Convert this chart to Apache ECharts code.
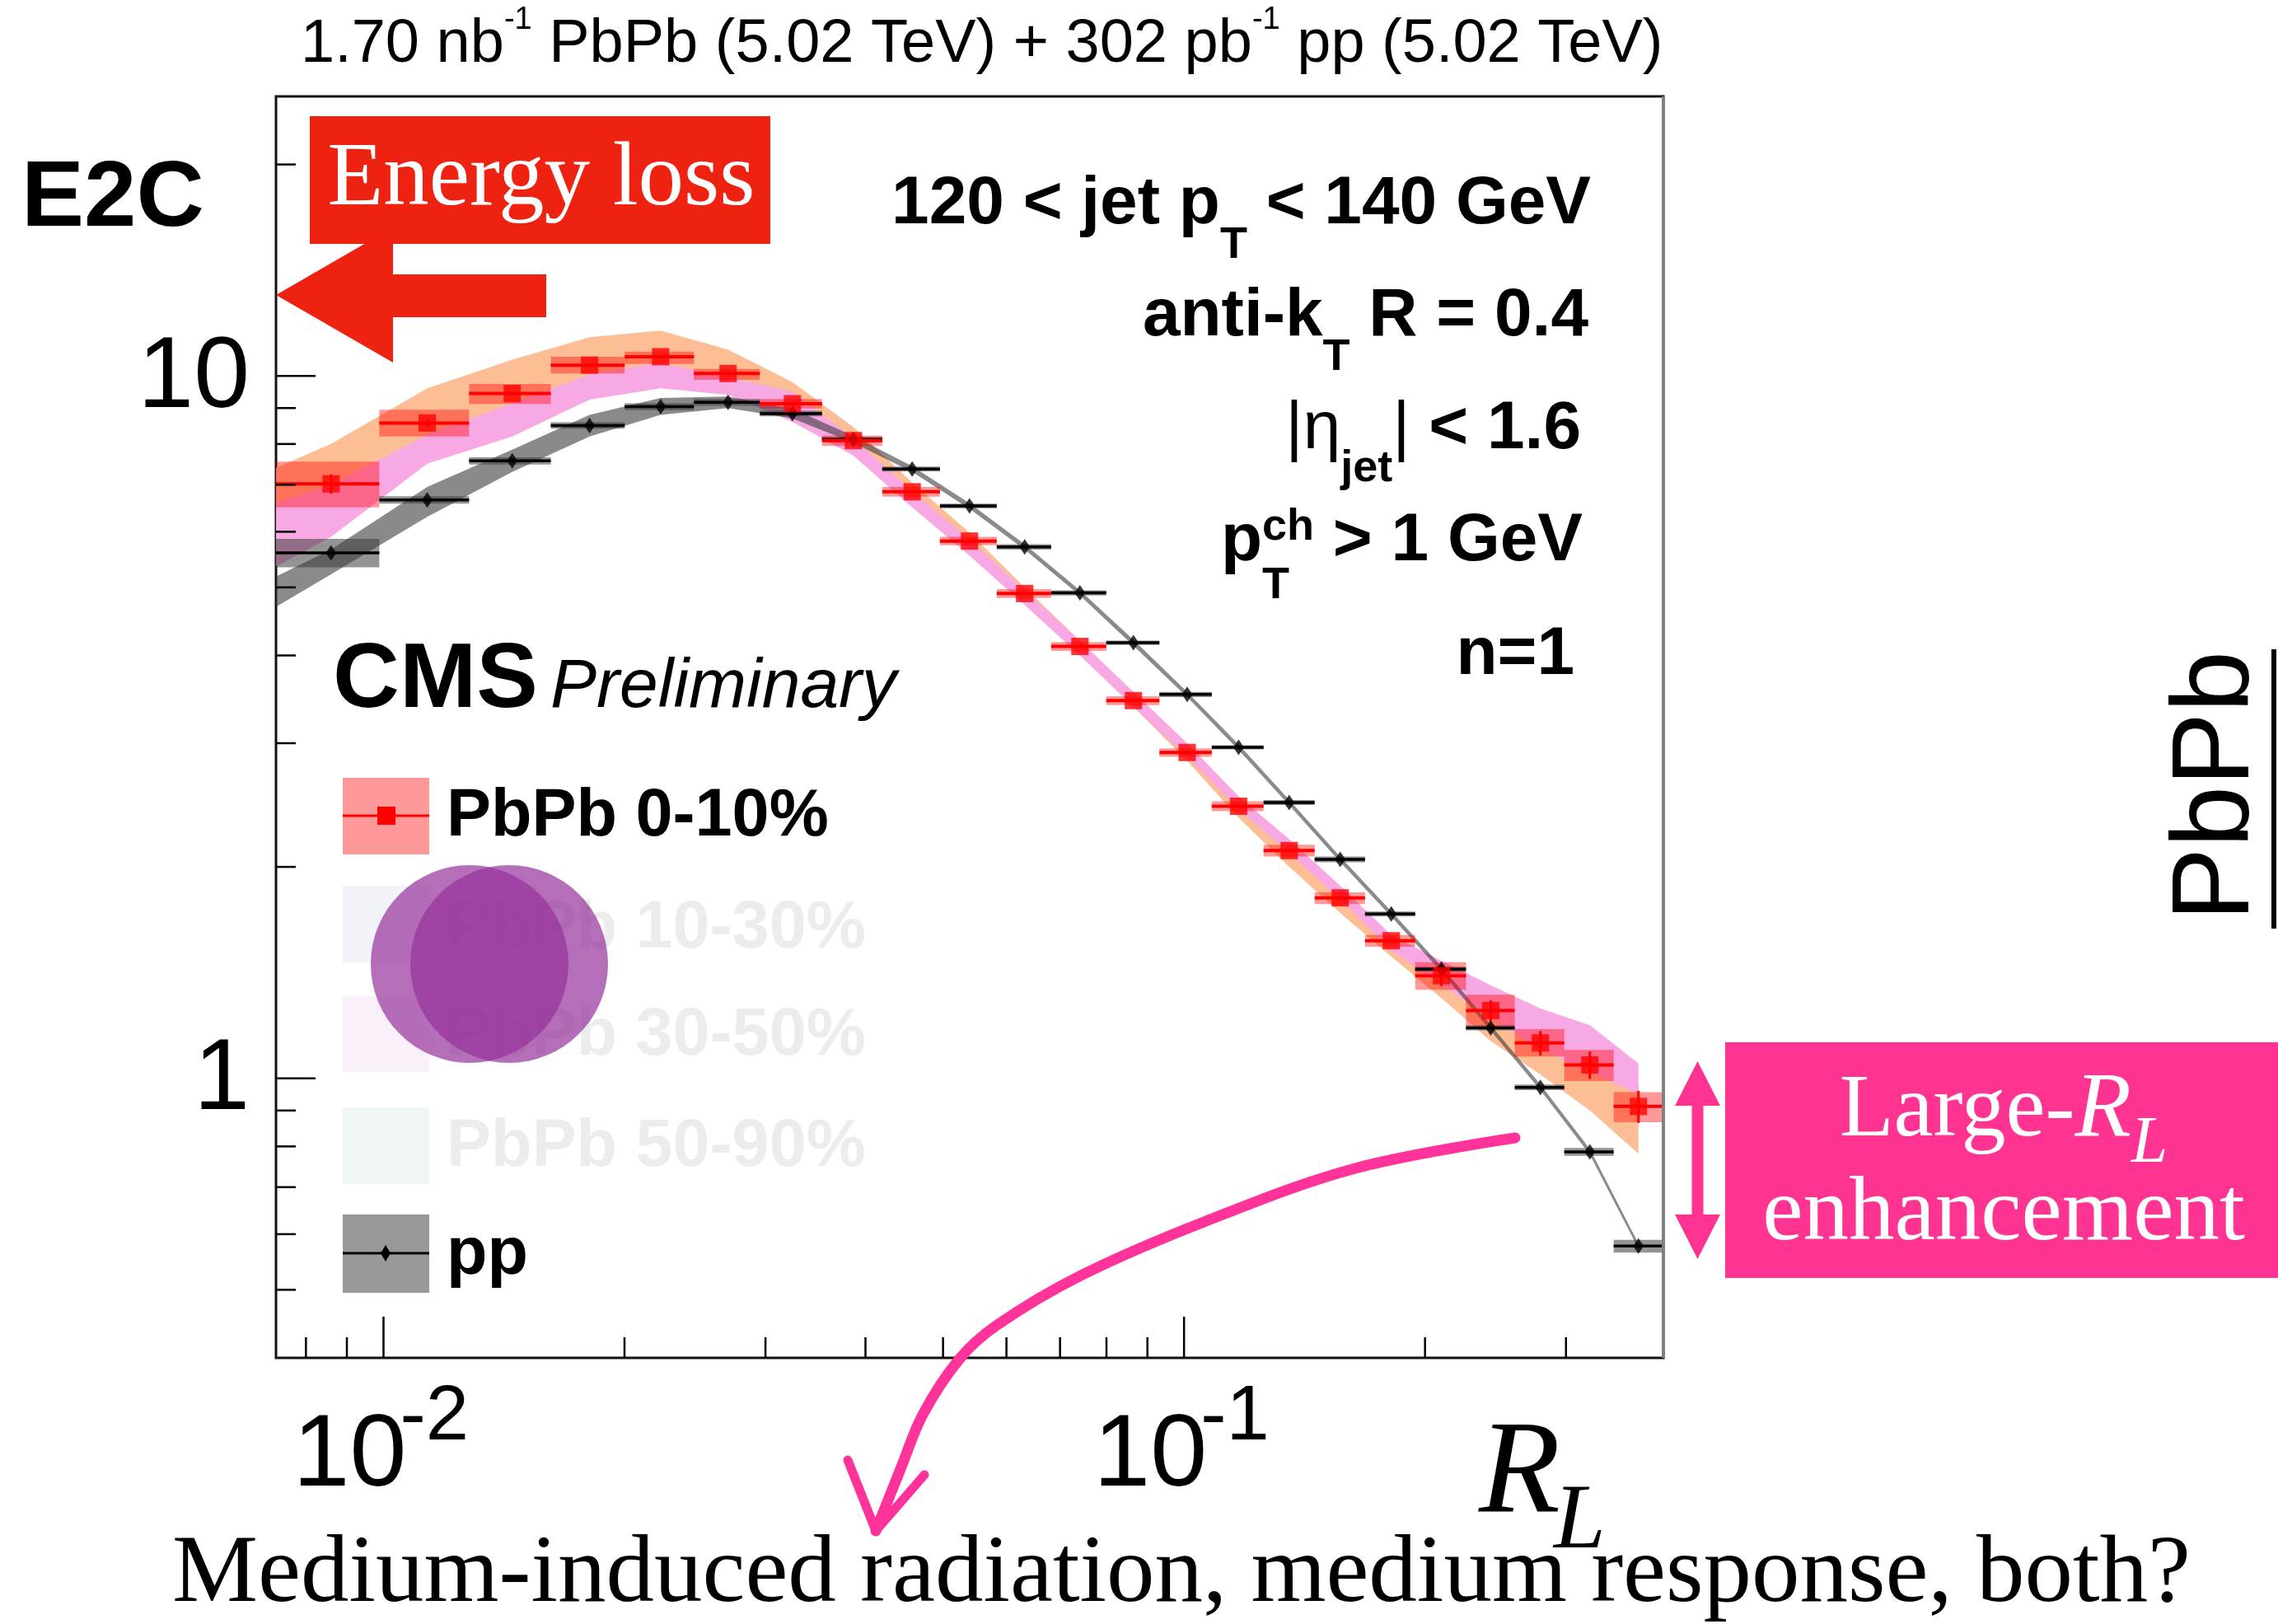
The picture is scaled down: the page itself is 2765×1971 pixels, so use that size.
<!DOCTYPE html>
<html><head><meta charset="utf-8">
<script src="https://cdn.jsdelivr.net/npm/echarts@6/dist/echarts.min.js"></script>
<style>html,body{margin:0;padding:0;background:#fff}#c{width:2765px;height:1971px}</style>
</head><body><div id="c"></div>
<script>
// ---------------- data ----------------
const binEdges = [0.00734, 0.00988, 0.01279, 0.01618, 0.02001, 0.02442, 0.02952, 0.0353, 0.04198, 0.04955, 0.05835, 0.06823, 0.07995, 0.09316, 0.1083, 0.1257, 0.1456, 0.1683, 0.1944, 0.2250, 0.2589, 0.2985, 0.3441, 0.397];
const rlCenters = [0.00860, 0.01134, 0.01448, 0.01809, 0.02219, 0.02694, 0.03242, 0.03864, 0.04575, 0.05395, 0.06323, 0.07412, 0.08645, 0.1009, 0.1170, 0.1353, 0.1567, 0.1815, 0.2097, 0.2416, 0.2787, 0.3213, 0.3695];
const pbpb = [7.02, 8.57, 9.44, 10.36, 10.65, 10.08, 9.13, 8.09, 6.84, 5.82, 4.90, 4.12, 3.45, 2.91, 2.44, 2.11, 1.807, 1.57, 1.40, 1.249, 1.123, 1.045, 0.912];
const pbpbStat = [0.22, 0.10, 0.05, 0.04, 0.03, 0.03, 0.02, 0.02, 0.02, 0.015, 0.015, 0.012, 0.01, 0.01, 0.01, 0.01, 0.01, 0.012, 0.047, 0.042, 0.045, 0.047, 0.048];
const pbpbSysLo = [6.50, 8.20, 9.12, 10.08, 10.40, 9.87, 8.99, 7.95, 6.73, 5.74, 4.83, 4.06, 3.40, 2.87, 2.40, 2.07, 1.77, 1.54, 1.337, 1.186, 1.074, 0.991, 0.866];
const pbpbSysHi = [7.55, 8.95, 9.74, 10.65, 10.83, 10.23, 9.27, 8.22, 6.95, 5.90, 4.97, 4.18, 3.50, 2.95, 2.48, 2.15, 1.84, 1.60, 1.464, 1.315, 1.175, 1.098, 0.956];
const pp = [5.60, 6.66, 7.57, 8.50, 9.04, 9.17, 8.84, 8.12, 7.37, 6.53, 5.71, 4.91, 4.17, 3.52, 2.96, 2.47, 2.05, 1.714, 1.43, 1.18, 0.971, 0.786, 0.577];
const ppSysLo = [5.34, 6.58, 7.48, 8.41, 8.94, 9.07, 8.76, 8.05, 7.31, 6.48, 5.66, 4.87, 4.14, 3.49, 2.94, 2.45, 2.03, 1.70, 1.418, 1.17, 0.962, 0.776, 0.565];
const ppSysHi = [5.86, 6.74, 7.66, 8.59, 9.14, 9.27, 8.92, 8.19, 7.43, 6.58, 5.76, 4.95, 4.20, 3.55, 2.98, 2.49, 2.07, 1.728, 1.442, 1.19, 0.980, 0.796, 0.589];
// model bands: first point is the left axis edge, then one per bin
const bandR = [0.00734, 0.00860, 0.01134, 0.01448, 0.01809, 0.02219, 0.02694, 0.03242, 0.03864, 0.04575, 0.05395, 0.06323, 0.07412, 0.08645, 0.1009, 0.1170, 0.1353, 0.1567, 0.1815, 0.2097, 0.2416, 0.2787, 0.3213, 0.3695];
const orangeLo = [6.3, 6.7, 8.0, 8.9, 9.8, 10.2, 9.7, 8.9, 7.95, 6.7, 5.7, 4.8, 4.05, 3.38, 2.83, 2.35, 2.0, 1.72, 1.49, 1.30, 1.13, 1.013, 0.90, 0.781];
const orangeHi = [7.4, 8.0, 9.6, 10.55, 11.35, 11.6, 10.9, 9.8, 8.45, 7.05, 5.98, 5.0, 4.2, 3.5, 2.94, 2.45, 2.1, 1.8, 1.56, 1.40, 1.25, 1.13, 1.03, 0.98];
const pinkLo = [5.35, 5.9, 7.5, 8.2, 9.25, 9.6, 9.4, 8.6, 7.7, 6.5, 5.55, 4.72, 4.0, 3.38, 2.87, 2.42, 2.09, 1.80, 1.52, 1.36, 1.22, 1.10, 1.02, 0.95];
const pinkHi = [6.6, 7.0, 8.25, 9.15, 10.05, 10.45, 9.95, 9.5, 8.15, 6.85, 5.85, 4.95, 4.2, 3.55, 3.0, 2.52, 2.19, 1.88, 1.60, 1.47, 1.357, 1.257, 1.19, 1.05];
const grayLo = [4.69, 5.22, 6.3, 7.3, 8.2, 8.8, 9.0, 8.70, 8.03, 7.30, 6.47, 5.66, 4.87, 4.13, 3.49, 2.933, 2.448, 2.032, 1.699, 1.417, 1.169, 0.962, 0.779, 0.572];
const grayHi = [5.18, 5.66, 6.95, 7.85, 8.8, 9.3, 9.35, 8.98, 8.21, 7.44, 6.59, 5.76, 4.95, 4.21, 3.55, 2.987, 2.492, 2.068, 1.729, 1.443, 1.191, 0.980, 0.793, 0.582];
// axes
const X_MIN = 0.00734, X_MAX = 0.397, Y_MIN = 0.4, Y_MAX = 25;
const xMajorTicks = [0.01, 0.1];
const xMinorTicks = [0.008, 0.009, 0.02, 0.03, 0.04, 0.05, 0.06, 0.07, 0.08, 0.09, 0.2, 0.3];
const yMajorTicks = [1, 10];
const yMinorTicks = [0.5, 0.6, 0.7, 0.8, 0.9, 2, 3, 4, 5, 6, 7, 8, 9, 20];
const xTickBase = ['10', '10'];
const xTickExp = ['-2', '-1'];
const yTickLabels = ['1', '10'];

// ---------------- helpers ----------------
const SANS = '"Liberation Sans", Arial, Helvetica, sans-serif';
const SERIF = '"Liberation Serif", "Times New Roman", serif';
const cv = document.createElement('canvas').getContext('2d');
function fnt(p){ return (p.italic?'italic ':'') + (p.bold?'bold ':'') + p.size + 'px ' + (p.fam||SANS); }
function tw(p){ cv.font = fnt(p); return cv.measureText(p.t).width; }
function tEl(x, base, p, z){
  return {type:'text', z: z||100, x: x, y: base - 0.345*p.size, silent:true,
    style:{text:p.t, font:fnt(p), fill:p.fill||'#000', textAlign:'left', textVerticalAlign:'middle', align:'left', verticalAlign:'middle'}};
}
function richLine(parts, x, base, align, defs){
  const ps = parts.map(p => p.stack ? {stack:p.stack.map(q=>Object.assign({}, defs, q))} : Object.assign({}, defs, p));
  const widths = ps.map(p => p.stack ? Math.max.apply(null, p.stack.map(tw)) : tw(p));
  const total = widths.reduce((a,b)=>a+b, 0);
  let cx = align==='right' ? x-total : (align==='center' ? x-total/2 : x);
  const out = [];
  ps.forEach((p,i)=>{ (p.stack||[p]).forEach(q=>out.push(tEl(cx, base+(q.dy||0), q))); cx += widths[i]; });
  return out;
}

// ---------------- series builders ----------------
function band(lo, hi, fill, z){
  return {type:'custom', z:z, clip:true, silent:true,
    data: bandR.map((r,i)=>[r, lo[i], hi[i]]), encode:{x:0, y:[1,2]},
    renderItem:(params, api)=>{
      if (params.dataIndex !== 0) return null;
      const pts = [];
      for (let i=0;i<bandR.length;i++) pts.push(api.coord([bandR[i], hi[i]]));
      for (let i=bandR.length-1;i>=0;i--) pts.push(api.coord([bandR[i], lo[i]]));
      return {type:'polygon', shape:{points:pts}, style:{fill:fill}};
    }};
}
function boxes(lo, hi, fill, z){
  return {type:'custom', z:z, clip:true, silent:true,
    data: rlCenters.map((r,i)=>[r, lo[i], hi[i]]), encode:{x:0, y:[1,2]},
    renderItem:(params, api)=>{
      const i = params.dataIndex;
      const a = api.coord([binEdges[i], hi[i]]), b = api.coord([binEdges[i+1], lo[i]]);
      return {type:'rect', shape:{x:a[0], y:a[1], width:b[0]-a[0], height:b[1]-a[1]}, style:{fill:fill}};
    }};
}
function bars(vals, stat, color, width, z){
  return {type:'custom', z:z, clip:true, silent:true,
    data: rlCenters.map((r,i)=>[r, vals[i]]),
    renderItem:(params, api)=>{
      const i = params.dataIndex;
      const a = api.coord([binEdges[i], vals[i]]), b = api.coord([binEdges[i+1], vals[i]]);
      const ch = [{type:'line', shape:{x1:a[0], y1:a[1], x2:b[0], y2:b[1]}, style:{stroke:color, lineWidth:width}}];
      if (stat) {
        const c = api.coord([rlCenters[i], vals[i]+stat[i]]), d = api.coord([rlCenters[i], vals[i]-stat[i]]);
        ch.push({type:'line', shape:{x1:c[0], y1:c[1], x2:d[0], y2:d[1]}, style:{stroke:color, lineWidth:3}});
      }
      return {type:'group', children:ch};
    }};
}
const tickSeriesX = {type:'custom', z:20, silent:true,
  data: xMajorTicks.map(v=>[v, Y_MIN, 1]).concat(xMinorTicks.map(v=>[v, Y_MIN, 0])),
  renderItem:(params, api)=>{
    const c = api.coord([api.value(0), Y_MIN]); const len = api.value(2) ? 50 : 25;
    return {type:'line', shape:{x1:c[0], y1:c[1], x2:c[0], y2:c[1]-len}, style:{stroke:'#000', lineWidth:2.5}};
  }};
const tickSeriesY = {type:'custom', z:20, silent:true,
  data: yMajorTicks.map(v=>[X_MIN, v, 1]).concat(yMinorTicks.map(v=>[X_MIN, v, 0])),
  renderItem:(params, api)=>{
    const c = api.coord([X_MIN, api.value(1)]); const len = api.value(2) ? 48 : 24;
    return {type:'line', shape:{x1:c[0], y1:c[1], x2:c[0]+len, y2:c[1]}, style:{stroke:'#000', lineWidth:2.5}};
  }};
const labelSeriesX = {type:'custom', z:20, silent:true,
  data: xMajorTicks.map(v=>[v, Y_MIN]),
  renderItem:(params, api)=>{
    const i = params.dataIndex; const c = api.coord([xMajorTicks[i], Y_MIN]);
    return {type:'group', children:[
      {type:'text', x:c[0]+28, y:c[1]+164-0.345*124, style:{text:xTickBase[i], font:'124px '+SANS, fill:'#000', textAlign:'right', align:'right', textVerticalAlign:'middle', verticalAlign:'middle'}},
      {type:'text', x:c[0]+20, y:c[1]+106-0.345*94, style:{text:xTickExp[i], font:'94px '+SANS, fill:'#000', textAlign:'left', align:'left', textVerticalAlign:'middle', verticalAlign:'middle'}}
    ]};
  }};
const labelSeriesY = {type:'custom', z:20, silent:true,
  data: yMajorTicks.map(v=>[X_MIN, v]),
  renderItem:(params, api)=>{
    const i = params.dataIndex; const c = api.coord([X_MIN, yMajorTicks[i]]);
    return {type:'text', x:c[0]-32, y:c[1]+4, style:{text:yTickLabels[i], font:'122px '+SANS, fill:'#000', textAlign:'right', align:'right', textVerticalAlign:'middle', verticalAlign:'middle'}};
  }};

// ---------------- annotations ----------------
const G = [];
const push = a => a.forEach(e=>G.push(e));
// title
push(richLine([{t:'1.70 nb'},{t:'-1', size:38, dy:-42},{t:' PbPb (5.02 TeV) + 302 pb'},{t:'-1', size:38, dy:-42},{t:' pp (5.02 TeV)'}], 365, 80, 'left', {size:74}));
// E2C
push(richLine([{t:'E2C'}], 26, 282, 'left', {size:114, bold:true}));
// Energy loss box + arrow
G.push({type:'polygon', z:99, shape:{points:[[335,358],[477,276],[477,333],[663,333],[663,385],[477,385],[477,440]]}, style:{fill:'#EE2211'}});
G.push({type:'rect', z:99, shape:{x:376, y:141, width:559, height:155}, style:{fill:'#EE2211'}});
push(richLine([{t:'Energy loss'}], 657, 257, 'center', {size:111, fam:SERIF, fill:'#fff'}));
// info block
const B = {size:82, bold:true};
push(richLine([{t:'120 < jet p'},{t:'T', size:54, dy:40},{t:' < 140 GeV'}], 1931, 277, 'right', B));
push(richLine([{t:'anti-k'},{t:'T', size:54, dy:40},{t:' R = 0.4'}], 1928, 413, 'right', B));
push(richLine([{t:'|\u03B7', bold:false},{t:'jet', size:54, dy:38},{t:'|', bold:false},{t:' < 1.6'}], 1919, 550, 'right', B));
push(richLine([{t:'p'},{stack:[{t:'ch', size:54, dy:-27},{t:'T', size:54, dy:44}]},{t:' > 1 GeV'}], 1921, 686, 'right', B));
push(richLine([{t:'n=1'}], 1911, 824, 'right', B));
// CMS Preliminary
push(richLine([{t:'CMS'}], 404, 866, 'left', {size:112, bold:true}));
push(richLine([{t:'Preliminary'}], 668, 864, 'left', {size:84, italic:true}));
// legend
G.push({type:'rect', z:98, shape:{x:416, y:944, width:105, height:93}, style:{fill:'rgba(255,0,0,0.4)'}});
G.push({type:'line', z:99, shape:{x1:416, y1:990, x2:521, y2:990}, style:{stroke:'#ff0000', lineWidth:3}});
G.push({type:'rect', z:99, shape:{x:458, y:979, width:22, height:22}, style:{fill:'#ff0000'}});
push(richLine([{t:'PbPb 0-10%'}], 542, 1020, 'left', {size:81, bold:true}));
G.push({type:'rect', z:98, shape:{x:416, y:1075, width:105, height:93}, style:{fill:'#F2F2F9'}});
push(richLine([{t:'PbPb 10-30%'}], 542, 1156, 'left', {size:81, bold:true, fill:'#ECECEC'}));
G.push({type:'rect', z:98, shape:{x:416, y:1209, width:105, height:92}, style:{fill:'#FAF0FA'}});
push(richLine([{t:'PbPb 30-50%'}], 542, 1286, 'left', {size:81, bold:true, fill:'#ECECEC'}));
G.push({type:'rect', z:98, shape:{x:416, y:1344, width:105, height:93}, style:{fill:'#F0F7F2'}});
push(richLine([{t:'PbPb 50-90%'}], 542, 1421, 'left', {size:81, bold:true, fill:'#ECECEC'}));
G.push({type:'rect', z:98, shape:{x:416, y:1474, width:105, height:95}, style:{fill:'#999999'}});
G.push({type:'line', z:99, shape:{x1:416, y1:1521, x2:521, y2:1521}, style:{stroke:'#000', lineWidth:3}});
G.push({type:'polygon', z:99, shape:{points:[[468,1511],[474,1521],[468,1531],[462,1521]]}, style:{fill:'#000'}});
push(richLine([{t:'pp'}], 542, 1552, 'left', {size:81, bold:true}));
// nuclei
G.push({type:'circle', z:110, shape:{cx:570, cy:1170, r:120}, style:{fill:'rgba(150,50,155,0.7)'}});
G.push({type:'circle', z:111, shape:{cx:618, cy:1170, r:120}, style:{fill:'rgba(150,50,155,0.7)'}});
// Large-RL box
G.push({type:'rect', z:99, shape:{x:2094, y:1265, width:671, height:286}, style:{fill:'#FF3392'}});
push(richLine([{t:'Large-'},{t:'R', italic:true, size:112},{t:'L', italic:true, size:80, dy:30}], 2432, 1387, 'center', {size:108, fam:SERIF, fill:'#fff'}));
push(richLine([{t:'enhancement'}], 2432, 1513, 'center', {size:111, fam:SERIF, fill:'#fff'}));
G.push({type:'polygon', z:99, shape:{points:[[2060.5,1288],[2088,1342],[2067.5,1342],[2067.5,1474],[2088,1474],[2060.5,1528],[2033,1474],[2053.5,1474],[2053.5,1342],[2033,1342]]}, style:{fill:'#FF3392'}});
// curved arrow
G.push({type:'polyline', z:120, shape:{points:[[1839,1381],[1645,1418],[1464,1482],[1312,1548],[1209,1609],[1164,1650],[1120,1717],[1093,1783],[1063,1858]], smooth:0.35}, style:{stroke:'#FF3399', lineWidth:13, lineCap:'round', fill:null}});
G.push({type:'polyline', z:120, shape:{points:[[1029,1772],[1063,1858],[1122,1790]]}, style:{stroke:'#FF3399', lineWidth:11, lineCap:'round', lineJoin:'round', fill:null}});
// axis title R_L
push(richLine([{t:'R', italic:true, size:162}], 1795, 1847, 'left', {fam:SERIF}));
push(richLine([{t:'L', italic:true, size:113}], 1886, 1887, 'left', {fam:SERIF}));
// bottom question
push(richLine([{t:'Medium-induced radiation, medium response, both?'}], 1434, 1953, 'center', {size:117, fam:SERIF}));
// right edge cut-off ratio label
G.push({type:'text', z:100, x:2692, y:954, rotation:Math.PI/2, silent:true, style:{text:'PbPb', font:'134px '+SANS, fill:'#000', textAlign:'center', align:'center', textVerticalAlign:'middle', verticalAlign:'middle'}});
G.push({type:'rect', z:100, shape:{x:2757, y:788, width:6, height:339}, style:{fill:'#000'}});
// right frame edge is grey in the original
G.push({type:'line', z:90, shape:{x1:2019, y1:117, x2:2019, y2:1648}, style:{stroke:'#808080', lineWidth:4}});

// ---------------- chart ----------------
const chart = echarts.init(document.getElementById('c'), null, {renderer:'canvas'});
chart.setOption({
  animation:false, backgroundColor:'#fff',
  grid:{left:335, top:117, right:746, bottom:323, show:true, borderColor:'#111', borderWidth:3, backgroundColor:'transparent'},
  xAxis:{type:'log', logBase:10, min:X_MIN, max:X_MAX, axisLine:{show:false}, axisTick:{show:false}, axisLabel:{show:false}, splitLine:{show:false}},
  yAxis:{type:'log', logBase:10, min:Y_MIN, max:Y_MAX, axisLine:{show:false}, axisTick:{show:false}, axisLabel:{show:false}, splitLine:{show:false}},
  series:[
    band(orangeLo, orangeHi, '#FDBE95', 1),
    band(pinkLo, pinkHi, '#F8A8E3', 2),
    band(grayLo, grayHi, 'rgba(60,60,60,0.6)', 3),
    boxes(ppSysLo, ppSysHi, 'rgba(60,60,60,0.55)', 5),
    boxes(pbpbSysLo, pbpbSysHi, 'rgba(255,0,0,0.4)', 5),
    bars(pp, null, '#000', 3.5, 6),
    bars(pbpb, pbpbStat, '#ff0000', 4, 6),
    {type:'scatter', z:7, silent:true, clip:true, symbol:'diamond', symbolSize:[13,19], itemStyle:{color:'#000'}, data: rlCenters.map((r,i)=>[r, pp[i]])},
    {type:'scatter', z:8, silent:true, clip:true, symbol:'rect', symbolSize:21, itemStyle:{color:'#ff0000'}, data: rlCenters.map((r,i)=>[r, pbpb[i]])},
    tickSeriesX, tickSeriesY, labelSeriesX, labelSeriesY
  ],
  graphic:{elements:G}
});
</script></body></html>
